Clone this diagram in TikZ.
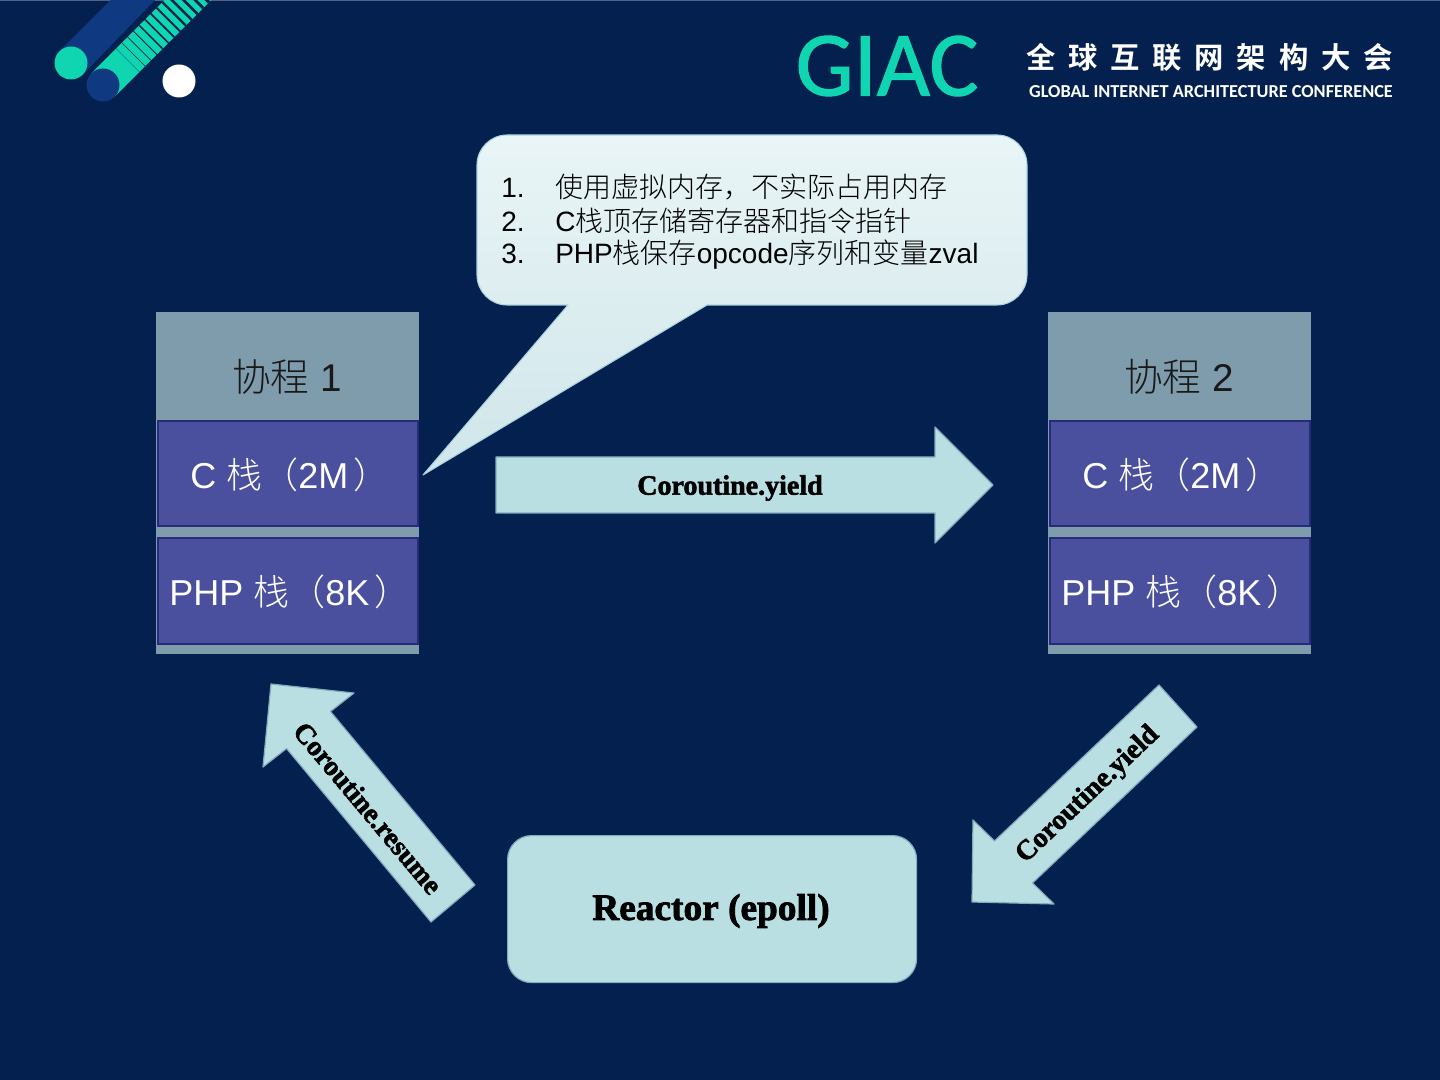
\documentclass[tikz,border=0pt]{standalone}
\usepackage{fontspec}
\setmainfont{Liberation Sans}
\newfontfamily\cjk{Noto Sans CJK SC Light}
\newfontfamily\cjkb{Noto Sans CJK SC Bold}
\newfontfamily\heavy{Liberation Serif Bold}[FakeBold=2]
\newfontfamily\logo{Carlito}[FakeBold=1.2]
\newfontfamily\logoen{Carlito Bold}
\newcommand{\zh}[1]{{\cjk #1}}
\definecolor{bgc}{HTML}{03204F}
\definecolor{teal}{HTML}{0FD5B0}
\definecolor{navybar}{HTML}{0F3A82}
\definecolor{stackgrey}{HTML}{7F9CAD}
\definecolor{stackblue}{HTML}{4A4F9E}
\definecolor{stackedge}{HTML}{272B7C}
\definecolor{pale}{HTML}{B9DFE3}
\definecolor{paleedge}{HTML}{83ADBF}
\definecolor{calltop}{HTML}{E9F5F6}
\definecolor{callbot}{HTML}{D0E6EA}
\definecolor{calledge}{HTML}{A9D3E0}
\tikzset{
  stackhead/.style={fill=stackgrey,draw=none,anchor=north west,inner sep=0pt,outer sep=0pt,minimum width=197.25pt,minimum height=256.5pt},
  stackcell/.style={fill=stackblue,draw=stackedge,line width=1.5pt,anchor=north west,inner sep=0pt,outer sep=0pt,minimum width=195pt,minimum height=78.75pt},
  paleshape/.style={fill=pale,draw=paleedge,line width=0.9pt,line join=round},
  whitelabel/.style={text=white,font=\fontsize{27}{30}\selectfont,anchor=base west,inner sep=0pt},
  headlabel/.style={text=black!90,font=\fontsize{29}{32}\selectfont,anchor=base,inner sep=0pt},
  arrowlabel/.style={text=black,font=\heavy\fontsize{21}{24}\selectfont,inner sep=0pt},
  calltext/.style={text=black,anchor=base west,inner sep=0pt,font=\fontsize{21}{22}\selectfont},
}
\begin{document}
\begin{tikzpicture}[x=0.75pt,y=-0.75pt]
\useasboundingbox (0,0) rectangle (1440,1080);
\fill[bgc] (0,0) rectangle (1440,1080);
\fill[bgc!70!white] (0,0) rectangle (1440,1);
% logo
\begin{scope}
\clip (0,1) rectangle (300,120);
\fill[navybar] (59.3,51.3) -- (110.6,0) -- (155,0) -- (82.7,74.7) -- cycle;
\fill[teal] (91.3,73.3) -- (164.6,0) -- (211.4,0) -- (114.7,96.7) -- cycle;
\begin{scope}
\clip (91.3,73.3) -- (164.6,0) -- (211.4,0) -- (114.7,96.7) -- cycle;
\foreach \i in {0,...,13}{
  \pgfmathsetmacro\t{35+8.2*\i}
  \pgfmathsetmacro\w{0.25+0.17*\i}
  \draw[bgc,line width=\w pt] ({103+\t*0.707-40},{85-\t*0.707-40}) -- ({103+\t*0.707+40},{85-\t*0.707+40});
}
\end{scope}
\end{scope}
\fill[teal] (71,63) circle (16.5);
\fill[navybar] (103,85) circle (16.5);
\fill[white] (179,81) circle (16.5);
\node[text=teal,font=\logo\fontsize{69}{70}\selectfont,anchor=center,inner sep=0pt] (giac) at (887,66) {GIAC};
\node[text=white,font=\cjkb\fontsize{22}{24}\selectfont,anchor=center,inner sep=0pt] (cn) at (1209.5,57) {全\hspace{9.6pt}球\hspace{9.6pt}互\hspace{9.6pt}联\hspace{9.6pt}网\hspace{9.6pt}架\hspace{9.6pt}构\hspace{9.6pt}大\hspace{9.6pt}会};
\node[text=white,font=\logoen\fontsize{13.7}{14}\selectfont,anchor=center,inner sep=0pt] (en) at (1211,91.5) {GLOBAL INTERNET ARCHITECTURE CONFERENCE};
% callout
\path[top color=calltop,bottom color=callbot,draw=calledge,line width=0.8pt,line join=round]
  (507,135) -- (997,135) .. controls (1013.5,135) and (1027,148.5) .. (1027,165) -- (1027,275) .. controls (1027,291.5) and (1013.5,305) .. (997,305) -- (707,305) -- (423,475) -- (568,305) -- (507,305) .. controls (490.5,305) and (477,291.5) .. (477,275) -- (477,165) .. controls (477,148.5) and (490.5,135) .. (507,135) -- cycle;
\node[calltext] (n1) at (501,198) {1.};
\node[calltext] (n2) at (501,231.5) {2.};
\node[calltext] (n3) at (501,264) {3.};
\node[calltext] (t1) at (555,198) {\zh{使用虚拟内存，不实际占用内存}};
\node[calltext] (t2) at (555,231.5) {C\zh{栈顶存储寄存器和指令指针}};
\node[calltext] (t3) at (555,264) {PHP\zh{栈保存}opcode\zh{序列和变量}zval};
% left stack
\node[stackhead] (s1) at (156,312) {};
\node[stackcell] (c1) at (157.5,421.5) {};
\node[stackcell] (p1) at (157.5,538.5) {};
\node[headlabel] (h1) at (287,392) {\zh{协程} 1};
\node[whitelabel] (lc1) at (190,489) {C \zh{栈（}2M\hspace{4pt}\zh{）}};
\node[whitelabel] (lp1) at (169,605.5) {PHP \zh{栈（}8K\hspace{4pt}\zh{）}};
% right stack
\node[stackhead] (s2) at (1048,312) {};
\node[stackcell] (c2) at (1049.5,421.5) {};
\node[stackcell] (p2) at (1049.5,538.5) {};
\node[headlabel] (h2) at (1179,392) {\zh{协程} 2};
\node[whitelabel] (lc2) at (1082,489) {C \zh{栈（}2M\hspace{4pt}\zh{）}};
\node[whitelabel] (lp2) at (1061,605.5) {PHP \zh{栈（}8K\hspace{4pt}\zh{）}};
% arrows
\draw[paleshape] (496,457) -- (935,457) -- (935,427) -- (993,485) -- (935,543) -- (935,513) -- (496,513) -- cycle;
\node[arrowlabel] (a1) at (730,488) {Coroutine.yield};
\draw[paleshape] (475,885) -- (330.5,711.5) -- (354,693) -- (271,684) -- (263,767) -- (286.5,748.5) -- (431,922) -- cycle;
\node[arrowlabel,rotate=-50] (a2) at (368,808) {Coroutine.resume};
\draw[paleshape] (1159,685) -- (994.5,841) -- (973,820) -- (972,902) -- (1054,904) -- (1032.5,883) -- (1197,727) -- cycle;
\node[arrowlabel,rotate=43.5] (a3) at (1088,795) {Coroutine.yield};
% reactor
\node[paleshape,rounded corners=18pt,anchor=north west,minimum width=306.75pt,minimum height=110.25pt,inner sep=0pt] (r) at (507,835) {};
\node[text=black,font=\heavy\fontsize{28}{30}\selectfont,inner sep=0pt] (rl) at (711,911) {Reactor (epoll)};
\end{tikzpicture}
\end{document}
